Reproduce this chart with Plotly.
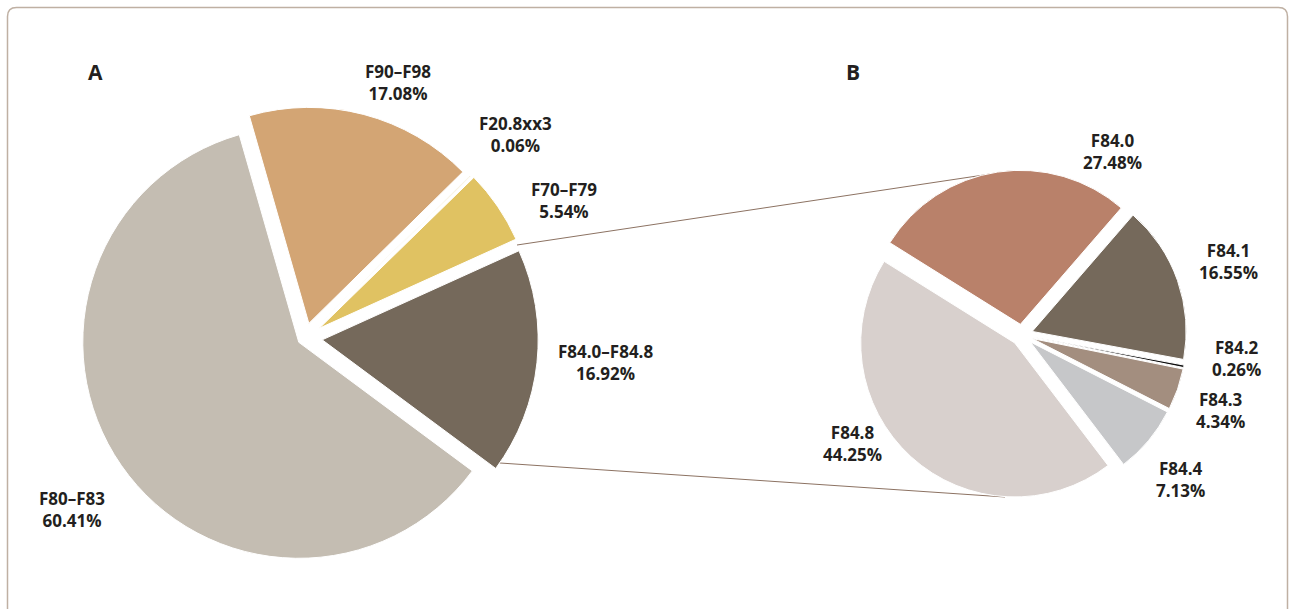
import plotly.graph_objects as go

W, H = 1290, 609

# ---- data ----
a_labels = ["F90–F98", "F20.8xx3", "F70–F79", "F84.0–F84.8", "F80–F83"]
a_values = [17.08, 0.06, 5.54, 16.92, 60.41]
a_colors = ["#d3a574", "#d9c07a", "#e0c262", "#75695b", "#c4bdb2"]

b_labels = ["F84.0", "F84.1", "F84.2", "F84.3", "F84.4", "F84.8"]
b_values = [27.48, 16.55, 0.26, 4.34, 7.13, 44.25]
b_colors = ["#b9816a", "#75695b", "#111111", "#a38e7f", "#c6c7c9", "#d8d0cd"]

panel_titles = ["A", "B"]

# ---- layout helpers (pixel -> paper) ----
def px(x, y):
    return x / W, 1 - y / H

def domain(cx, cy, r, maxpull):
    half = r * (1 + maxpull)
    return dict(x=[(cx - half) / W, (cx + half) / W],
                y=[(H - cy - half) / H, (H - cy + half) / H])

a_pull = [0.07, 0.07, 0.08, 0.08, 0.035]
b_pull = [0.07] * 6

fig = go.Figure()
fig.add_trace(go.Pie(
    labels=a_labels, values=a_values, sort=False, direction="clockwise",
    rotation=-16, pull=a_pull, textinfo="none", hoverinfo="label+percent",
    marker=dict(colors=a_colors, line=dict(color="white", width=1)),
    domain=domain(305, 338, 216, max(a_pull)), showlegend=False,
))
fig.add_trace(go.Pie(
    labels=b_labels, values=b_values, sort=False, direction="clockwise",
    rotation=-58, pull=b_pull, textinfo="none", hoverinfo="label+percent",
    marker=dict(colors=b_colors, line=dict(color="white", width=1)),
    domain=domain(1022, 335, 154, max(b_pull)), showlegend=False,
))

font = dict(family="Open Sans", size=17, color="#231f20", weight="bold")
a_pos = [(398, 82), (515, 134.5), (564, 200.5), (605, 362), (72, 509)]
b_pos = [(1112, 151), (1228, 262), (1236, 359), (1220, 411), (1180, 479), (852, 443)]

ann = []
for lab, val, (x, y) in list(zip(a_labels, a_values, a_pos)) + list(zip(b_labels, b_values, b_pos)):
    xx, yy = px(x, y)
    ann.append(dict(x=xx, y=yy, xref="paper", yref="paper", text=f"{lab}<br>{val:.2f}%",
                    showarrow=False, xanchor="center", yanchor="middle", font=font))
for t, (x, y) in zip(panel_titles, [(95, 72), (853, 72)]):
    xx, yy = px(x, y)
    ann.append(dict(x=xx, y=yy, xref="paper", yref="paper", text=t, showarrow=False,
                    xanchor="center", yanchor="middle",
                    font=dict(family="Open Sans", size=21, color="#231f20", weight="bold")))

shapes = []
line_col = "#8c7262"
for (x0, y0), (x1, y1) in [((517, 245), (997, 173)), ((500, 463), (1005, 497))]:
    a0, b0 = px(x0, y0)
    a1, b1 = px(x1, y1)
    shapes.append(dict(type="line", xref="paper", yref="paper", x0=a0, y0=b0, x1=a1, y1=b1,
                       line=dict(color=line_col, width=1), layer="below"))

# rounded frame
l, t, r, b, rad = 7.5, 7.5, 1287.5, 625, 9
path = (f"M {l+rad},{t} L {r-rad},{t} Q {r},{t} {r},{t+rad} L {r},{b} "
        f"L {l},{b} L {l},{t+rad} Q {l},{t} {l+rad},{t} Z")
shapes.append(dict(type="path", xref="x", yref="y", path=path,
                   line=dict(color="#bfb0a3", width=1.5), layer="below"))

fig.update_layout(
    width=W, height=H, margin=dict(l=0, r=0, t=0, b=0),
    paper_bgcolor="white", plot_bgcolor="rgba(0,0,0,0)",
    annotations=ann, shapes=shapes,
    xaxis=dict(range=[0, W], visible=False, fixedrange=True),
    yaxis=dict(range=[H, 0], visible=False, fixedrange=True),
)
fig.write_html("out.html", config={"displayModeBar": False},
               post_script="document.body.style.margin='0';document.body.style.overflow='hidden';")
